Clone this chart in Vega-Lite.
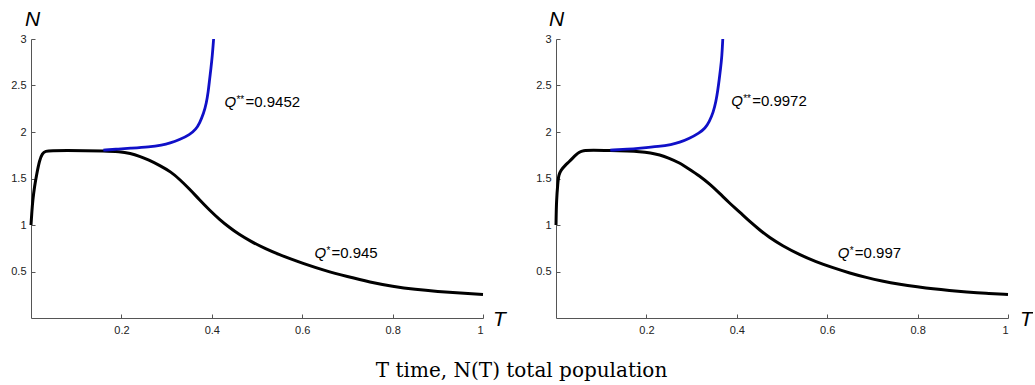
{
  "$schema": "https://vega.github.io/schema/vega-lite/v6.json",
  "padding": {"left": 10, "top": 8, "right": 0, "bottom": 0},
  "bounds": "flush",
  "spacing": 73,
  "background": "white",
  "config": {
    "view": {"stroke": null},
    "axis": {
      "grid": false,
      "domainColor": "#555555",
      "tickColor": "#555555",
      "tickSize": -4,
      "labelFont": "Liberation Sans",
      "labelFontSize": 11,
      "labelColor": "#222222",
      "titleFont": "Liberation Sans",
      "titleFontSize": 21,
      "titleFontStyle": "italic",
      "titleFontWeight": "normal",
      "titleColor": "black",
      "titleAngle": 0,
      "titleAlign": "center",
      "titleBaseline": "middle"
    }
  },
  "title": {
    "text": "T time, N(T) total population",
    "orient": "bottom",
    "anchor": "middle",
    "font": "DejaVu Serif",
    "fontSize": 20,
    "fontWeight": "normal",
    "color": "black",
    "offset": 26
  },
  "datasets": {
    "left": [
      {"T": 0, "N": 1.0, "curve": "Q*"},
      {"T": 0.002, "N": 1.15, "curve": "Q*"},
      {"T": 0.004, "N": 1.27, "curve": "Q*"},
      {"T": 0.008, "N": 1.42, "curve": "Q*"},
      {"T": 0.012, "N": 1.53, "curve": "Q*"},
      {"T": 0.019, "N": 1.7, "curve": "Q*"},
      {"T": 0.025, "N": 1.77, "curve": "Q*"},
      {"T": 0.032, "N": 1.795, "curve": "Q*"},
      {"T": 0.045, "N": 1.8, "curve": "Q*"},
      {"T": 0.08, "N": 1.8, "curve": "Q*"},
      {"T": 0.12, "N": 1.8, "curve": "Q*"},
      {"T": 0.16, "N": 1.798, "curve": "Q*"},
      {"T": 0.196, "N": 1.79, "curve": "Q*"},
      {"T": 0.22, "N": 1.77, "curve": "Q*"},
      {"T": 0.24, "N": 1.74, "curve": "Q*"},
      {"T": 0.26, "N": 1.7, "curve": "Q*"},
      {"T": 0.285, "N": 1.64, "curve": "Q*"},
      {"T": 0.31, "N": 1.57, "curve": "Q*"},
      {"T": 0.329, "N": 1.49, "curve": "Q*"},
      {"T": 0.35, "N": 1.39, "curve": "Q*"},
      {"T": 0.373, "N": 1.27, "curve": "Q*"},
      {"T": 0.395, "N": 1.16, "curve": "Q*"},
      {"T": 0.417, "N": 1.06, "curve": "Q*"},
      {"T": 0.44, "N": 0.97, "curve": "Q*"},
      {"T": 0.46, "N": 0.9, "curve": "Q*"},
      {"T": 0.484, "N": 0.83, "curve": "Q*"},
      {"T": 0.52, "N": 0.74, "curve": "Q*"},
      {"T": 0.55, "N": 0.68, "curve": "Q*"},
      {"T": 0.572, "N": 0.64, "curve": "Q*"},
      {"T": 0.6, "N": 0.59, "curve": "Q*"},
      {"T": 0.65, "N": 0.51, "curve": "Q*"},
      {"T": 0.7, "N": 0.445, "curve": "Q*"},
      {"T": 0.75, "N": 0.385, "curve": "Q*"},
      {"T": 0.8, "N": 0.34, "curve": "Q*"},
      {"T": 0.85, "N": 0.307, "curve": "Q*"},
      {"T": 0.9, "N": 0.285, "curve": "Q*"},
      {"T": 0.95, "N": 0.268, "curve": "Q*"},
      {"T": 1.0, "N": 0.253, "curve": "Q*"},
      {"T": 0.16, "N": 1.805, "curve": "Q**"},
      {"T": 0.19, "N": 1.815, "curve": "Q**"},
      {"T": 0.218, "N": 1.825, "curve": "Q**"},
      {"T": 0.262, "N": 1.84, "curve": "Q**"},
      {"T": 0.29, "N": 1.86, "curve": "Q**"},
      {"T": 0.307, "N": 1.88, "curve": "Q**"},
      {"T": 0.33, "N": 1.92, "curve": "Q**"},
      {"T": 0.351, "N": 1.97, "curve": "Q**"},
      {"T": 0.365, "N": 2.03, "curve": "Q**"},
      {"T": 0.373, "N": 2.095, "curve": "Q**"},
      {"T": 0.382, "N": 2.2, "curve": "Q**"},
      {"T": 0.388, "N": 2.31, "curve": "Q**"},
      {"T": 0.392, "N": 2.43, "curve": "Q**"},
      {"T": 0.395, "N": 2.56, "curve": "Q**"},
      {"T": 0.398, "N": 2.68, "curve": "Q**"},
      {"T": 0.401, "N": 2.81, "curve": "Q**"},
      {"T": 0.404, "N": 3.0, "curve": "Q**"}
    ],
    "right": [
      {"T": 0, "N": 1.0, "curve": "Q*"},
      {"T": 0.001, "N": 1.27, "curve": "Q*"},
      {"T": 0.004, "N": 1.45, "curve": "Q*"},
      {"T": 0.006, "N": 1.54, "curve": "Q*"},
      {"T": 0.011, "N": 1.59, "curve": "Q*"},
      {"T": 0.02, "N": 1.64, "curve": "Q*"},
      {"T": 0.029, "N": 1.68, "curve": "Q*"},
      {"T": 0.037, "N": 1.72, "curve": "Q*"},
      {"T": 0.044, "N": 1.755, "curve": "Q*"},
      {"T": 0.052, "N": 1.785, "curve": "Q*"},
      {"T": 0.059, "N": 1.8, "curve": "Q*"},
      {"T": 0.08, "N": 1.805, "curve": "Q*"},
      {"T": 0.12, "N": 1.8, "curve": "Q*"},
      {"T": 0.16, "N": 1.795, "curve": "Q*"},
      {"T": 0.184, "N": 1.79, "curve": "Q*"},
      {"T": 0.21, "N": 1.775, "curve": "Q*"},
      {"T": 0.229, "N": 1.755, "curve": "Q*"},
      {"T": 0.25, "N": 1.72, "curve": "Q*"},
      {"T": 0.273, "N": 1.67, "curve": "Q*"},
      {"T": 0.295, "N": 1.6, "curve": "Q*"},
      {"T": 0.317, "N": 1.53, "curve": "Q*"},
      {"T": 0.34, "N": 1.44, "curve": "Q*"},
      {"T": 0.362, "N": 1.34, "curve": "Q*"},
      {"T": 0.384, "N": 1.235, "curve": "Q*"},
      {"T": 0.406, "N": 1.14, "curve": "Q*"},
      {"T": 0.43, "N": 1.03, "curve": "Q*"},
      {"T": 0.45, "N": 0.95, "curve": "Q*"},
      {"T": 0.472, "N": 0.865, "curve": "Q*"},
      {"T": 0.5, "N": 0.78, "curve": "Q*"},
      {"T": 0.539, "N": 0.68, "curve": "Q*"},
      {"T": 0.575, "N": 0.605, "curve": "Q*"},
      {"T": 0.613, "N": 0.54, "curve": "Q*"},
      {"T": 0.65, "N": 0.483, "curve": "Q*"},
      {"T": 0.687, "N": 0.435, "curve": "Q*"},
      {"T": 0.72, "N": 0.398, "curve": "Q*"},
      {"T": 0.761, "N": 0.362, "curve": "Q*"},
      {"T": 0.8, "N": 0.335, "curve": "Q*"},
      {"T": 0.834, "N": 0.313, "curve": "Q*"},
      {"T": 0.87, "N": 0.295, "curve": "Q*"},
      {"T": 0.908, "N": 0.28, "curve": "Q*"},
      {"T": 0.95, "N": 0.265, "curve": "Q*"},
      {"T": 1.0, "N": 0.253, "curve": "Q*"},
      {"T": 0.12, "N": 1.805, "curve": "Q**"},
      {"T": 0.16, "N": 1.815, "curve": "Q**"},
      {"T": 0.184, "N": 1.825, "curve": "Q**"},
      {"T": 0.229, "N": 1.845, "curve": "Q**"},
      {"T": 0.255, "N": 1.865, "curve": "Q**"},
      {"T": 0.273, "N": 1.887, "curve": "Q**"},
      {"T": 0.295, "N": 1.93, "curve": "Q**"},
      {"T": 0.317, "N": 1.99, "curve": "Q**"},
      {"T": 0.33, "N": 2.04, "curve": "Q**"},
      {"T": 0.339, "N": 2.11, "curve": "Q**"},
      {"T": 0.348, "N": 2.21, "curve": "Q**"},
      {"T": 0.354, "N": 2.33, "curve": "Q**"},
      {"T": 0.358, "N": 2.45, "curve": "Q**"},
      {"T": 0.361, "N": 2.56, "curve": "Q**"},
      {"T": 0.364, "N": 2.68, "curve": "Q**"},
      {"T": 0.367, "N": 2.81, "curve": "Q**"},
      {"T": 0.369, "N": 3.0, "curve": "Q**"}
    ],
    "leftLabels": [
      {"T": 0.428, "N": 2.27, "q": "Q", "stars": "**", "value": "=0.9452"},
      {"T": 0.627, "N": 0.647, "q": "Q", "stars": "*", "value": "=0.945"}
    ],
    "rightLabels": [
      {"T": 0.3875, "N": 2.28, "q": "Q", "stars": "**", "value": "=0.9972"},
      {"T": 0.6235, "N": 0.64, "q": "Q", "stars": "*", "value": "=0.997"}
    ]
  },
  "hconcat": [
    {
      "width": 452,
      "height": 279,
      "data": {"name": "left"},
      "encoding": {
        "x": {
          "field": "T", "type": "quantitative",
          "scale": {"domain": [0, 1], "nice": false},
          "axis": {"values": [0.2, 0.4, 0.6, 0.8, 1], "format": "~g", "labelPadding": 10, "title": "T", "titleX": 468, "titleY": 1}
        },
        "y": {
          "field": "N", "type": "quantitative",
          "scale": {"domain": [0, 3], "nice": false},
          "axis": {"values": [0.5, 1, 1.5, 2, 2.5, 3], "format": "~g", "labelPadding": 9, "title": "N", "titleX": 1, "titleY": -20}
        }
      },
      "layer": [
        {
          "transform": [{"filter": "datum.curve === 'Q*'"}],
          "mark": {"type": "line", "color": "black", "strokeWidth": 3, "interpolate": "basis"}
        },
        {
          "transform": [{"filter": "datum.curve === 'Q**'"}],
          "mark": {"type": "line", "color": "#1010c8", "strokeWidth": 2.8, "interpolate": "basis"}
        },
        {
          "data": {"name": "leftLabels"},
          "mark": {"type": "text", "align": "left", "baseline": "alphabetic", "font": "Liberation Sans", "fontSize": 15, "fontStyle": "italic", "color": "black"},
          "encoding": {"text": {"field": "q"}}
        },
        {
          "data": {"name": "leftLabels"},
          "mark": {"type": "text", "align": "left", "baseline": "alphabetic", "font": "Liberation Sans", "fontSize": 10, "dx": 12, "dy": -4, "color": "black"},
          "encoding": {"text": {"field": "stars"}}
        },
        {
          "data": {"name": "leftLabels"},
          "transform": [{"filter": "datum.stars === '**'"}],
          "mark": {"type": "text", "align": "left", "baseline": "alphabetic", "font": "Liberation Sans", "fontSize": 15, "dx": 21, "color": "black"},
          "encoding": {"text": {"field": "value"}}
        },
        {
          "data": {"name": "leftLabels"},
          "transform": [{"filter": "datum.stars === '*'"}],
          "mark": {"type": "text", "align": "left", "baseline": "alphabetic", "font": "Liberation Sans", "fontSize": 15, "dx": 17, "color": "black"},
          "encoding": {"text": {"field": "value"}}
        }
      ]
    },
    {
      "width": 452,
      "height": 279,
      "data": {"name": "right"},
      "encoding": {
        "x": {
          "field": "T", "type": "quantitative",
          "scale": {"domain": [0, 1], "nice": false},
          "axis": {"values": [0.2, 0.4, 0.6, 0.8, 1], "format": "~g", "labelPadding": 10, "title": "T", "titleX": 470, "titleY": 1}
        },
        "y": {
          "field": "N", "type": "quantitative",
          "scale": {"domain": [0, 3], "nice": false},
          "axis": {"values": [0.5, 1, 1.5, 2, 2.5, 3], "format": "~g", "labelPadding": 9, "title": "N", "titleX": 0, "titleY": -20}
        }
      },
      "layer": [
        {
          "transform": [{"filter": "datum.curve === 'Q*'"}],
          "mark": {"type": "line", "color": "black", "strokeWidth": 3, "interpolate": "basis"}
        },
        {
          "transform": [{"filter": "datum.curve === 'Q**'"}],
          "mark": {"type": "line", "color": "#1010c8", "strokeWidth": 2.8, "interpolate": "basis"}
        },
        {
          "data": {"name": "rightLabels"},
          "mark": {"type": "text", "align": "left", "baseline": "alphabetic", "font": "Liberation Sans", "fontSize": 15, "fontStyle": "italic", "color": "black"},
          "encoding": {"text": {"field": "q"}}
        },
        {
          "data": {"name": "rightLabels"},
          "mark": {"type": "text", "align": "left", "baseline": "alphabetic", "font": "Liberation Sans", "fontSize": 10, "dx": 12, "dy": -4, "color": "black"},
          "encoding": {"text": {"field": "stars"}}
        },
        {
          "data": {"name": "rightLabels"},
          "transform": [{"filter": "datum.stars === '**'"}],
          "mark": {"type": "text", "align": "left", "baseline": "alphabetic", "font": "Liberation Sans", "fontSize": 15, "dx": 21, "color": "black"},
          "encoding": {"text": {"field": "value"}}
        },
        {
          "data": {"name": "rightLabels"},
          "transform": [{"filter": "datum.stars === '*'"}],
          "mark": {"type": "text", "align": "left", "baseline": "alphabetic", "font": "Liberation Sans", "fontSize": 15, "dx": 17, "color": "black"},
          "encoding": {"text": {"field": "value"}}
        }
      ]
    }
  ]
}
